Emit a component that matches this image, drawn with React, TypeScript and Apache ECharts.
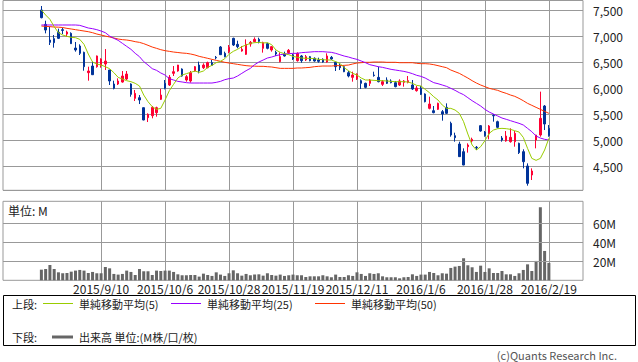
import React, { useEffect, useRef } from 'react';
import * as echarts from 'echarts';

// Trading days shown (Tokyo), 2015/8/21 .. 2016/2/19
const dates = [
  '2015/8/21', '2015/8/24', '2015/8/25', '2015/8/26', '2015/8/27', '2015/8/28', '2015/8/31',
  '2015/9/1', '2015/9/2', '2015/9/3', '2015/9/4', '2015/9/7', '2015/9/8', '2015/9/9', '2015/9/10', '2015/9/11',
  '2015/9/14', '2015/9/15', '2015/9/16', '2015/9/17', '2015/9/18', '2015/9/24', '2015/9/25', '2015/9/28', '2015/9/29', '2015/9/30',
  '2015/10/1', '2015/10/2', '2015/10/5', '2015/10/6', '2015/10/7', '2015/10/8', '2015/10/9', '2015/10/13', '2015/10/14', '2015/10/15',
  '2015/10/16', '2015/10/19', '2015/10/20', '2015/10/21', '2015/10/22', '2015/10/23', '2015/10/26', '2015/10/27', '2015/10/28', '2015/10/29', '2015/10/30',
  '2015/11/2', '2015/11/4', '2015/11/5', '2015/11/6', '2015/11/9', '2015/11/10', '2015/11/11', '2015/11/12', '2015/11/13', '2015/11/16',
  '2015/11/17', '2015/11/18', '2015/11/19', '2015/11/20', '2015/11/24', '2015/11/25', '2015/11/26', '2015/11/27', '2015/11/30',
  '2015/12/1', '2015/12/2', '2015/12/3', '2015/12/4', '2015/12/7', '2015/12/8', '2015/12/9', '2015/12/10', '2015/12/11', '2015/12/14',
  '2015/12/15', '2015/12/16', '2015/12/17', '2015/12/18', '2015/12/21', '2015/12/22', '2015/12/24', '2015/12/25', '2015/12/28', '2015/12/29', '2015/12/30',
  '2016/1/4', '2016/1/5', '2016/1/6', '2016/1/7', '2016/1/8', '2016/1/12', '2016/1/13', '2016/1/14', '2016/1/15', '2016/1/18',
  '2016/1/19', '2016/1/20', '2016/1/21', '2016/1/22', '2016/1/25', '2016/1/26', '2016/1/27', '2016/1/28', '2016/1/29',
  '2016/2/1', '2016/2/2', '2016/2/3', '2016/2/4', '2016/2/5', '2016/2/8', '2016/2/9', '2016/2/10', '2016/2/12', '2016/2/15',
  '2016/2/16', '2016/2/17', '2016/2/18', '2016/2/19',
];

const tickDates = ['2015/9/10', '2015/10/6', '2015/10/28', '2015/11/19', '2015/12/11', '2016/1/6', '2016/1/28', '2016/2/19'];

// [open, close, low, high]
const ohlc = [
  [7500, 7353, 7340, 7577], [7224, 7115, 7051, 7295], [6923, 6878, 6827, 7180], [6949, 6872, 6776, 7019],
  [7071, 6955, 6942, 7141], [7122, 7108, 7038, 7160], [7038, 7077, 6987, 7103], [7051, 6853, 6850, 7071],
  [6769, 6731, 6699, 6885], [6808, 6667, 6635, 6840], [6686, 6410, 6333, 6699], [6295, 6327, 6141, 6410],
  [6423, 6256, 6250, 6507], [6410, 6616, 6391, 6625], [6436, 6558, 6391, 6571], [6462, 6519, 6346, 6750],
  [6346, 6135, 6058, 6350], [6077, 5994, 5974, 6141], [6077, 6135, 6058, 6186], [6115, 6231, 6103, 6327],
  [6173, 6269, 6154, 6327], [6077, 5878, 5833, 6090], [5801, 5897, 5750, 5962], [5814, 5769, 5692, 5865],
  [5622, 5385, 5380, 5625], [5430, 5494, 5346, 5513], [5468, 5628, 5417, 5654], [5526, 5622, 5449, 5641],
  [5782, 5865, 5769, 5981], [6090, 5994, 5974, 6154], [6058, 6205, 6039, 6250], [6282, 6314, 6231, 6423],
  [6327, 6442, 6314, 6445], [6365, 6231, 6218, 6378], [6154, 6218, 6122, 6250], [6135, 6295, 6103, 6327],
  [6327, 6410, 6314, 6423], [6442, 6327, 6282, 6507], [6391, 6442, 6365, 6475], [6391, 6487, 6378, 6507],
  [6487, 6436, 6423, 6539], [6590, 6580, 6552, 6616], [6789, 6641, 6635, 6808], [6667, 6603, 6590, 6699],
  [6699, 6782, 6667, 6827], [6955, 6827, 6808, 6968], [6840, 6795, 6763, 6910], [6712, 6744, 6699, 6808],
  [6648, 6840, 6635, 6936], [6846, 6878, 6795, 6904], [6891, 6936, 6878, 6974], [6936, 6897, 6859, 6968],
  [6763, 6872, 6680, 6891], [6853, 6763, 6744, 6872], [6731, 6795, 6699, 6808], [6686, 6654, 6616, 6718],
  [6507, 6603, 6494, 6686], [6654, 6616, 6603, 6699], [6680, 6725, 6660, 6750], [6635, 6558, 6539, 6654],
  [6526, 6667, 6507, 6686], [6616, 6526, 6487, 6635], [6539, 6603, 6519, 6635], [6603, 6526, 6513, 6616],
  [6571, 6519, 6507, 6590], [6539, 6513, 6487, 6583], [6552, 6500, 6487, 6571], [6500, 6616, 6487, 6667],
  [6590, 6558, 6539, 6616], [6494, 6410, 6327, 6507], [6442, 6391, 6346, 6475], [6410, 6314, 6305, 6423],
  [6295, 6231, 6205, 6327], [6205, 6250, 6122, 6314], [6173, 6269, 6154, 6282], [6141, 6090, 5981, 6167],
  [6090, 6013, 5994, 6103], [6090, 6154, 6039, 6173], [6250, 6240, 6218, 6314], [6205, 6122, 6109, 6410],
  [6071, 6122, 6039, 6154], [6154, 6090, 6077, 6205], [6135, 6103, 6090, 6167], [6103, 6026, 6013, 6135],
  [6058, 6135, 6039, 6167], [6109, 6135, 6026, 6154], [6109, 6141, 6090, 6231], [6058, 5981, 5962, 6154],
  [5949, 6000, 5930, 6039], [5994, 5878, 5865, 6039], [5885, 5737, 5724, 5897], [5609, 5692, 5590, 5833],
  [5564, 5526, 5513, 5654], [5590, 5705, 5577, 5718], [5545, 5500, 5372, 5577], [5628, 5513, 5500, 5705],
  [5321, 5096, 5064, 5353], [5083, 5045, 4968, 5141], [4923, 4680, 4675, 4968], [4776, 4519, 4515, 4840],
  [4872, 4904, 4757, 4936], [4981, 5013, 4949, 5045], [4860, 4850, 4808, 4885], [5276, 5173, 5160, 5288],
  [5154, 5083, 5064, 5173], [5115, 5269, 5013, 5288], [5475, 5465, 5353, 5500], [5353, 5244, 5224, 5372],
  [5038, 5000, 4968, 5077], [4981, 5077, 4968, 5173], [4968, 5051, 4949, 5224], [4968, 5128, 4872, 5173],
  [4936, 4757, 4731, 4949], [4776, 4583, 4455, 4821], [4500, 4167, 4122, 4551], [4327, 4404, 4231, 4455],
  [5000, 5096, 4840, 5100], [5096, 5417, 5064, 5930], [5654, 5308, 5192, 5673], [5224, 5083, 5064, 5288],
];

const ma5 = [
  7500, 7404, 7321, 7180, 7064, 7019, 6994, 6974, 6968, 6936,
  6840, 6654, 6500, 6462, 6442, 6410, 6372, 6295, 6205, 6173,
  6141, 6122, 6090, 6039, 5865, 5737, 5641, 5590, 5609, 5769,
  5949, 6071, 6192, 6250, 6276, 6301, 6327, 6301, 6327, 6397,
  6436, 6487, 6513, 6564, 6648, 6705, 6744, 6795, 6827, 6859,
  6872, 6878, 6866, 6872, 6833, 6731, 6686, 6660, 6641, 6609,
  6590, 6577, 6571, 6571, 6564, 6552, 6545, 6539, 6539, 6507,
  6475, 6391, 6333, 6282, 6250, 6192, 6154, 6154, 6147, 6141,
  6141, 6135, 6128, 6122, 6122, 6122, 6115, 6090, 6051, 6039,
  5974, 5910, 5833, 5769, 5673, 5609, 5609, 5577, 5513, 5353,
  5115, 4904, 4808, 4872, 4987, 5128, 5192, 5218, 5224, 5218,
  5205, 5179, 5154, 5051, 4840, 4647, 4609, 4647, 4808, 5032,
];

const ma25 = [
  7212, 7212, 7212, 7212, 7212, 7212, 7212, 7212, 7212, 7205,
  7180, 7154, 7141, 7122, 7096, 7064, 6999, 6955, 6917, 6859,
  6801, 6744, 6667, 6603, 6507, 6442, 6372, 6340, 6289, 6250,
  6180, 6154, 6128, 6116, 6103, 6096, 6096, 6096, 6096, 6096,
  6096, 6109, 6128, 6160, 6180, 6192, 6231, 6282, 6333, 6378,
  6449, 6500, 6538, 6577, 6596, 6622, 6641, 6654, 6660, 6667,
  6667, 6680, 6686, 6692, 6699, 6699, 6699, 6692, 6686, 6667,
  6641, 6615, 6596, 6571, 6551, 6519, 6487, 6449, 6430, 6410,
  6397, 6378, 6359, 6346, 6333, 6320, 6301, 6276, 6244, 6224,
  6192, 6147, 6103, 6083, 6058, 6032, 5994, 5955, 5910, 5872,
  5814, 5756, 5705, 5654, 5590, 5538, 5500, 5462, 5423, 5398,
  5372, 5346, 5321, 5289, 5224, 5160, 5077, 5038, 5013, 5000,
];

const ma50 = [
  7192, 7186, 7180, 7173, 7170, 7163, 7147, 7135, 7122, 7109,
  7096, 7083, 7064, 7038, 7019, 6999, 6981, 6962, 6942, 6930,
  6923, 6910, 6891, 6878, 6853, 6821, 6788, 6763, 6737, 6718,
  6705, 6692, 6683, 6673, 6667, 6654, 6635, 6609, 6590, 6571,
  6551, 6532, 6513, 6494, 6481, 6468, 6455, 6442, 6430, 6423,
  6420, 6417, 6417, 6410, 6404, 6391, 6378, 6378, 6378, 6378,
  6385, 6385, 6391, 6397, 6410, 6417, 6423, 6423, 6423, 6430,
  6430, 6436, 6442, 6462, 6481, 6487, 6494, 6494, 6500, 6500,
  6500, 6494, 6494, 6494, 6487, 6487, 6487, 6487, 6475, 6468,
  6468, 6462, 6449, 6430, 6410, 6391, 6346, 6314, 6282, 6237,
  6192, 6141, 6096, 6058, 6026, 5994, 5974, 5955, 5923, 5897,
  5865, 5840, 5801, 5756, 5705, 5667, 5628, 5590, 5551, 5513,
];

// volume, millions
const volume = [
  11.2, 11.9, 16.1, 11.9, 8.4, 7.4, 7.7, 9.1, 10.2, 10.9,
  10.2, 7.7, 8.8, 7.4, 7.4, 14.0, 12.6, 6.7, 6.0, 6.7,
  10.2, 8.8, 5.6, 11.9, 9.5, 9.5, 5.6, 10.2, 9.8, 10.2,
  10.2, 8.8, 6.3, 5.3, 5.3, 5.6, 5.6, 3.9, 7.0, 5.6,
  4.6, 8.4, 6.0, 4.6, 7.4, 10.5, 7.4, 4.9, 6.7, 5.3,
  6.0, 6.3, 4.9, 7.4, 5.6, 4.9, 6.0, 4.6, 5.3, 6.0,
  5.3, 5.3, 3.5, 4.2, 4.2, 4.2, 5.3, 4.2, 3.2, 6.0,
  3.5, 3.5, 5.3, 4.6, 8.4, 6.7, 4.6, 7.4, 6.7, 7.4,
  4.2, 3.2, 3.2, 3.2, 2.1, 3.2, 3.5, 6.3, 4.6, 6.0,
  6.0, 8.8, 7.7, 5.3, 7.4, 7.0, 13.0, 14.4, 15.1, 23.2,
  15.8, 13.7, 8.8, 15.4, 8.8, 12.6, 7.7, 7.7, 9.8, 6.3,
  6.3, 4.6, 7.4, 10.9, 16.8, 9.8, 20.4, 76.9, 30.9, 18.3,
];

const priceLabels = [4500, 5000, 5500, 6000, 6500, 7000, 7500];
const volumeLabels = [20, 40, 60];

const LEFT_PAD = 9;
const RIGHT_PAD = 8;
const FONT = "'Noto Sans CJK JP', 'Noto Sans', sans-serif";
const GRID = '#999999';
const UP = '#ff0033';
const DOWN = '#003399';
const C5 = '#99cc00';
const C25 = '#9900ff';
const C50 = '#ff3300';
const VOL = '#666666';

export default function App() {
  const ref = useRef<HTMLDivElement>(null);

  useEffect(() => {
    if (!ref.current) return;
    const chart = echarts.init(ref.current, null, { renderer: 'svg' });

    const padL = Array.from({ length: LEFT_PAD }, (_, k) => `pad-l${k}`);
    const padR = Array.from({ length: RIGHT_PAD }, (_, k) => `pad-r${k}`);
    const cats = [...padL, ...dates, ...padR];
    const pad = (arr: any[], empty: any) => [...padL.map(() => empty), ...arr, ...padR.map(() => empty)];
    const tickSet = new Set(tickDates);
    const isTick = (i: number) => tickSet.has(cats[i]);

    const gridW = 580;
    const grids = [
      { left: 3, top: 0.5, width: gridW, height: 189.8 },
      { left: 3, top: 201.3, width: gridW, height: 79 },
    ];

    const option: any = {
      animation: false,
      grid: grids.map((g) => ({ ...g, show: true, borderColor: GRID, borderWidth: 1, backgroundColor: 'transparent' })),
      xAxis: [0, 1].map((gi) => ({
        type: 'category',
        gridIndex: gi,
        data: cats,
        boundaryGap: false,
        axisLine: { show: false },
        axisTick: { show: false },
        axisLabel: {
          show: gi === 1,
          interval: (i: number) => isTick(i),
          margin: 2,
          fontSize: 12,
          color: '#222',
          fontFamily: FONT,
          formatter: (v: string) => v,
        },
        splitLine: { show: true, interval: (i: number) => isTick(i), lineStyle: { color: GRID, width: 1 } },
      })),
      yAxis: [
        {
          type: 'value',
          gridIndex: 0,
          position: 'right',
          min: 4033,
          max: 7683,
          splitNumber: 7,
          minInterval: 500,
          maxInterval: 500,
          axisLine: { show: false },
          axisTick: { show: false },
          axisLabel: {
            margin: 10,
            fontSize: 12,
            color: '#222',
            fontFamily: FONT,
            formatter: (v: number) => (priceLabels.includes(v) ? v.toLocaleString('en-US') : ''),
          },
          splitLine: { show: true, lineStyle: { color: GRID, width: 1 } },
        },
        {
          type: 'value',
          gridIndex: 1,
          position: 'right',
          min: 0,
          max: 83.16,
          interval: 20,
          axisLine: { show: false },
          axisTick: { show: false },
          axisLabel: {
            margin: 10,
            fontSize: 12,
            color: '#222',
            fontFamily: FONT,
            formatter: (v: number) => (volumeLabels.includes(v) ? `${v}M` : ''),
          },
          splitLine: { show: false },
        },
      ],
      series: [
        {
          type: 'candlestick',
          xAxisIndex: 0,
          yAxisIndex: 0,
          data: pad(ohlc, ['-', '-', '-', '-']),
          barWidth: 2,
          itemStyle: { color: UP, color0: DOWN, borderColor: UP, borderColor0: DOWN, borderWidth: 1 },
          z: 3,
        },
        {
          type: 'line', xAxisIndex: 0, yAxisIndex: 0, data: pad(ma50, '-'), symbol: 'none',
          lineStyle: { color: C50, width: 1 }, z: 4,
        },
        {
          type: 'line', xAxisIndex: 0, yAxisIndex: 0, data: pad(ma25, '-'), symbol: 'none',
          lineStyle: { color: C25, width: 1 }, z: 4,
        },
        {
          type: 'line', xAxisIndex: 0, yAxisIndex: 0, data: pad(ma5, '-'), symbol: 'none',
          lineStyle: { color: C5, width: 1 }, z: 4,
        },
        {
          type: 'line', xAxisIndex: 1, yAxisIndex: 1, data: cats.map(() => '-'),
          symbol: 'none', lineStyle: { width: 0 }, z: 1, silent: true,
          markLine: {
            silent: true, symbol: 'none', label: { show: false },
            lineStyle: { color: GRID, type: 'solid', width: 1 },
            data: volumeLabels.map((v) => ({ yAxis: v })),
          },
        },
        {
          type: 'bar',
          xAxisIndex: 1,
          yAxisIndex: 1,
          data: pad(volume, '-'),
          barWidth: 3,
          itemStyle: { color: VOL },
          z: 3,
        },
      ],
      graphic: [
        { type: 'text', x: 8, y: 210, style: { text: '単位: M', fill: '#222', fontSize: 12, fontFamily: FONT, verticalAlign: 'middle' } },
        { type: 'rect', shape: { x: 3.5, y: 295.5, width: 632, height: 50 }, style: { fill: 'none', stroke: '#000', lineWidth: 1 } },
        { type: 'text', x: 12, y: 303.5, style: { text: '上段:', fill: '#222', fontSize: 11, fontFamily: FONT, verticalAlign: 'middle' } },
        { type: 'line', shape: { x1: 43, y1: 303.5, x2: 73, y2: 303.5 }, style: { stroke: C5, lineWidth: 1 } },
        { type: 'text', x: 79, y: 303.5, style: { text: '単純移動平均(5)', fill: '#222', fontSize: 11, fontFamily: FONT, verticalAlign: 'middle' } },
        { type: 'line', shape: { x1: 171, y1: 303.5, x2: 201, y2: 303.5 }, style: { stroke: C25, lineWidth: 1 } },
        { type: 'text', x: 207, y: 303.5, style: { text: '単純移動平均(25)', fill: '#222', fontSize: 11, fontFamily: FONT, verticalAlign: 'middle' } },
        { type: 'line', shape: { x1: 315, y1: 303.5, x2: 345, y2: 303.5 }, style: { stroke: C50, lineWidth: 1 } },
        { type: 'text', x: 351, y: 303.5, style: { text: '単純移動平均(50)', fill: '#222', fontSize: 11, fontFamily: FONT, verticalAlign: 'middle' } },
        { type: 'text', x: 12, y: 337, style: { text: '下段:', fill: '#222', fontSize: 11, fontFamily: FONT, verticalAlign: 'middle' } },
        { type: 'line', shape: { x1: 52, y1: 337, x2: 73, y2: 337 }, style: { stroke: VOL, lineWidth: 3 } },
        { type: 'text', x: 79, y: 337, style: { text: '出来高 単位:(M株/口/枚)', fill: '#222', fontSize: 11, fontFamily: FONT, verticalAlign: 'middle' } },
        { type: 'text', x: 617, y: 354.5, style: { text: '(c)Quants Research Inc.', fill: '#555', fontSize: 11, fontFamily: FONT, align: 'right', verticalAlign: 'middle' } },
      ],
    };

    chart.setOption(option);
    return () => chart.dispose();
  }, []);

  return <div ref={ref} style={{ position: 'absolute', left: 0, top: 0, width: 638, height: 362 }} />;
}
